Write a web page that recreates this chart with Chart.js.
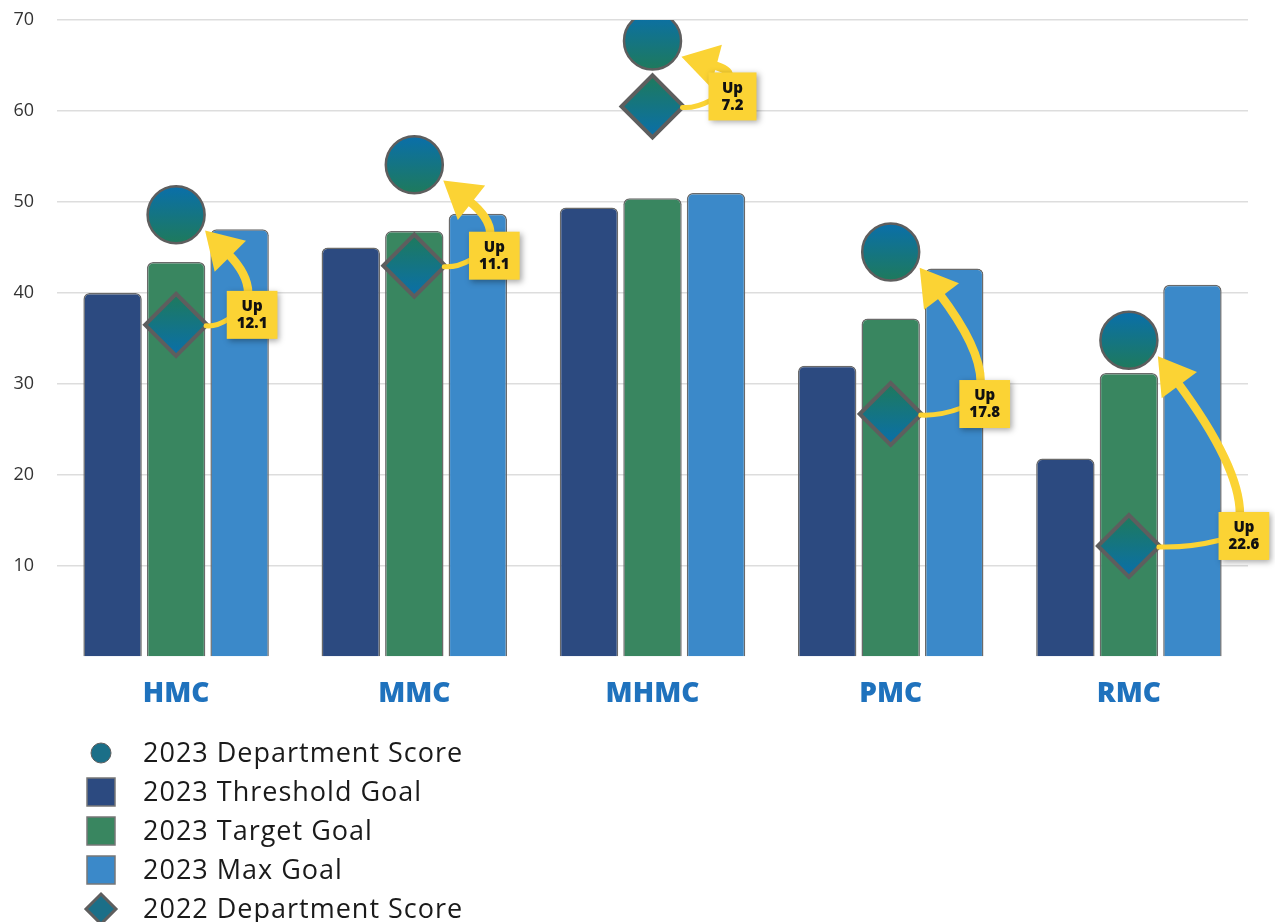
<!DOCTYPE html>
<html>
<head>
<meta charset="utf-8">
<script src="https://cdn.jsdelivr.net/npm/chart.js@4/dist/chart.umd.min.js"></script>
<style>
  html, body { margin: 0; padding: 0; background: #fff; }
</style>
</head>
<body>
<canvas id="chart" width="1275" height="922"></canvas>
<script>
(function () {
    "use strict";

    // Data
    const categories = ['HMC', 'MMC', 'MHMC', 'PMC', 'RMC'];
    const score2023 = [48.6, 54.1, 67.7, 44.5, 34.8];
    const thresholdGoal = [40, 45, 49.4, 32, 21.8];
    const targetGoal = [43.4, 46.8, 50.4, 37.2, 31.2];
    const maxGoal = [47, 48.7, 51, 42.7, 40.9];
    const score2022 = [36.5, 43.0, 60.5, 26.7, 12.2];
    const yTicks = [10, 20, 30, 40, 50, 60, 70];

    // how far right of the marker each "Up" box sits
    const calloutShift = [76, 80, 80, 94, 115];

    const FONT = '"Open Sans", Lato, sans-serif';
    const GREY = '#5e5e5e';
    const YELLOW = '#fbd334';

    // vertical gradient centred on each point
    function pointGradient(top, bottom, r) {
        return function (ctx) {
            if (ctx.type !== 'data') return top;
            const y = ctx.chart.scales.y;
            if (!y || y.top === undefined) return top;
            const py = y.getPixelForValue(ctx.raw);
            const g = ctx.chart.ctx.createLinearGradient(0, py - r, 0, py + r);
            g.addColorStop(0, top);
            g.addColorStop(1, bottom);
            return g;
        };
    }

    // Callouts: "Up x.x" box, connector from 2022 marker, arrow to 2023 marker
    const callouts = {
        id: 'callouts',
        afterDatasetsDraw(chart) {
            const c = chart.ctx;
            const now = chart.getDatasetMeta(0).data;
            const before = chart.getDatasetMeta(4).data;
            categories.forEach(function (cat, i) {
                const P = now[i], D = before[i];
                const diff = (score2023[i] - score2022[i]).toFixed(1);
                c.save();
                c.font = '800 15px ' + FONT;
                const w = Math.max(48, c.measureText(diff).width + 20), h = 48;
                const bx = D.x + calloutShift[i], by = D.y - 10;

                c.strokeStyle = YELLOW;
                c.fillStyle = YELLOW;
                c.lineCap = 'round';

                // connector from diamond
                c.lineWidth = 5;
                c.beginPath();
                c.moveTo(D.x + 30, D.y + 1);
                c.quadraticCurveTo((D.x + 30 + bx - w / 2) / 2, D.y + 2, bx - w / 2 + 2, by + 4);
                c.stroke();

                // curved arrow up to the circle
                const S = { x: bx - 4, y: by - h / 2 + 2 };
                const ang = 0.5;
                const T = { x: P.x + 33 * Math.cos(ang), y: P.y + 33 * Math.sin(ang) };
                const C = { x: S.x, y: T.y + 0.7 * (S.y - T.y) };
                let dx = T.x - C.x, dy = T.y - C.y;
                const len = Math.hypot(dx, dy);
                dx /= len; dy /= len;
                const headLen = 36, headHalf = 22;
                const B = { x: T.x - dx * headLen, y: T.y - dy * headLen };
                c.lineWidth = 8.5;
                c.beginPath();
                c.moveTo(S.x, S.y);
                c.quadraticCurveTo(C.x, C.y, B.x + dx * 4, B.y + dy * 4);
                c.stroke();
                c.beginPath();
                c.moveTo(T.x, T.y);
                c.lineTo(B.x - dy * headHalf, B.y + dx * headHalf);
                c.lineTo(B.x + dy * headHalf, B.y - dx * headHalf);
                c.closePath();
                c.fill();

                // box
                c.shadowColor = 'rgba(0,0,0,0.35)';
                c.shadowBlur = 6;
                c.shadowOffsetX = 2;
                c.shadowOffsetY = 2;
                c.fillRect(bx - w / 2, by - h / 2, w, h);
                c.shadowColor = 'transparent';

                c.fillStyle = '#111';
                c.textAlign = 'center';
                c.textBaseline = 'middle';
                c.fillText('Up', bx, by - 8);
                c.fillText(diff, bx, by + 9);
                c.restore();
            });
        }
    };

    // Legend stacked down the bottom left
    const stackedLegend = {
        id: 'stackedLegend',
        afterDraw(chart) {
            const c = chart.ctx;
            const x0 = 101, tx = 143;
            let y = chart.chartArea.bottom + 96;
            chart.data.datasets.forEach(function (ds) {
                c.save();
                if (ds.type === 'line' && ds.pointStyle === 'circle') {
                    c.fillStyle = '#1b6f88';
                    c.strokeStyle = GREY;
                    c.lineWidth = 1;
                    c.beginPath();
                    c.arc(x0, y, 10, 0, Math.PI * 2);
                    c.fill();
                    c.stroke();
                } else if (ds.type === 'line') {
                    c.fillStyle = '#1b6f88';
                    c.strokeStyle = GREY;
                    c.lineWidth = 3;
                    c.beginPath();
                    c.moveTo(x0, y - 15);
                    c.lineTo(x0 + 15, y);
                    c.lineTo(x0, y + 15);
                    c.lineTo(x0 - 15, y);
                    c.closePath();
                    c.fill();
                    c.stroke();
                } else {
                    c.fillStyle = ds.backgroundColor;
                    c.strokeStyle = '#777';
                    c.lineWidth = 1.5;
                    c.fillRect(x0 - 14, y - 14, 28, 28);
                    c.strokeRect(x0 - 14, y - 14, 28, 28);
                }
                c.fillStyle = '#1a1a1a';
                c.font = '27px ' + FONT;
                c.letterSpacing = '1px';
                c.textBaseline = 'middle';
                c.fillText(ds.label, tx, y + 1);
                c.restore();
                y += 39;
            });
        }
    };

    const barStyle = {
        borderColor: '#6a6a6a',
        borderWidth: 1.5,
        borderRadius: { topLeft: 6, topRight: 6 },
        borderSkipped: 'bottom',
        categoryPercentage: 0.8,
        barPercentage: 0.92,
        order: 2
    };

    const ctx = document.getElementById('chart').getContext('2d');
    new Chart(ctx, {
        type: 'bar',
        data: {
            labels: categories,
            datasets: [{
                type: 'line',
                label: '2023 Department Score',
                data: score2023,
                showLine: false,
                pointStyle: 'circle',
                pointRadius: 28.5,
                pointHoverRadius: 28.5,
                pointBorderWidth: 2.5,
                pointBorderColor: GREY,
                pointBackgroundColor: pointGradient('#0a6fa9', '#1e7a5d', 28),
                order: 0
            }, Object.assign({
                label: '2023 Threshold Goal',
                data: thresholdGoal,
                backgroundColor: '#2c4a80'
            }, barStyle), Object.assign({
                label: '2023 Target Goal',
                data: targetGoal,
                backgroundColor: '#398660'
            }, barStyle), Object.assign({
                label: '2023 Max Goal',
                data: maxGoal,
                backgroundColor: '#3b89c9'
            }, barStyle), {
                type: 'line',
                label: '2022 Department Score',
                data: score2022,
                showLine: false,
                pointStyle: 'rectRot',
                pointRadius: 31,
                pointHoverRadius: 31,
                pointBorderWidth: 4,
                pointBorderColor: GREY,
                pointBackgroundColor: pointGradient('#1e7a5d', '#0a6fa9', 30),
                order: 1
            }]
        },
        options: {
            responsive: false,
            animation: false,
            devicePixelRatio: 1,
            layout: {
                autoPadding: false,
                padding: { left: 0, right: 27, top: 20, bottom: 195 }
            },
            plugins: {
                legend: { display: false },
                tooltip: { enabled: false }
            },
            scales: {
                x: {
                    grid: { display: false },
                    border: { display: false },
                    afterFit: function (s) {
                        s.paddingLeft = 0;
                        s.paddingRight = 0;
                        s.height = 70;
                    },
                    ticks: {
                        color: '#1f72bd',
                        padding: 12,
                        font: { family: FONT, size: 28, weight: 800 }
                    }
                },
                y: {
                    min: 0,
                    max: 70,
                    border: { display: false },
                    afterFit: function (s) {
                        s.paddingTop = 0;
                        s.paddingBottom = 0;
                        s.width = 57;
                    },
                    grid: {
                        drawTicks: false,
                        lineWidth: 1.5,
                        color: function (c) { return c.tick && c.tick.value === 0 ? 'rgba(0,0,0,0)' : '#dddddd'; }
                    },
                    ticks: {
                        stepSize: 10,
                        padding: 23,
                        color: '#333',
                        font: { family: FONT, size: 18 },
                        callback: function (v) { return yTicks.includes(v) ? v : ''; }
                    }
                }
            }
        },
        plugins: [callouts, stackedLegend]
    });

})();
</script>
</body>
</html>
